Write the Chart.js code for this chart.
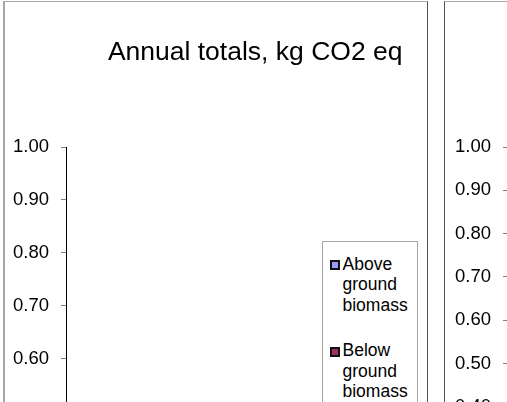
<!DOCTYPE html>
<html>
<head>
<meta charset="utf-8">
<title>Annual totals, kg CO2 eq</title>
<script src="https://cdn.jsdelivr.net/npm/chart.js@4.4.1/dist/chart.umd.min.js"></script>
<style>
  html, body { margin: 0; padding: 0; background: #fff; overflow: hidden; }
  body { width: 507px; height: 402px; position: relative; font-family: 'Liberation Sans', Arial, sans-serif; }
  .frame { position: absolute; top: 1px; height: 900px; box-sizing: border-box; }
  #frameLeft { left: 3px; width: 425px; border-top: 1px solid #a6a6a6; border-left: 2px solid #a6a6a6; border-right: 1px solid #555; }
  #frameRight { left: 444px; width: 420px; border-top: 1px solid #a6a6a6; border-left: 1px solid #555; }
  .chart-box { position: absolute; top: 0; }
  #leftBox { left: 0; width: 427px; height: 720px; }
  #rightBox { left: 445px; width: 400px; height: 624px; }
  #legend { position: absolute; left: 322px; top: 241px; width: 96px; height: 400px; box-sizing: border-box;
            border: 1px solid #a6a6a6; background: #fff; padding-top: 11.7px; }
  .legend-item { position: relative; padding-left: 19.5px; font-size: 17.5px; line-height: 20.5px; margin-bottom: 25.2px; color: #000; }
  .legend-item .swatch { position: absolute; left: 7px; top: 6.3px; width: 10px; height: 10px; box-sizing: border-box; border: 2px solid #111; }
</style>
</head>
<body>
<div class="frame" id="frameLeft"></div>
<div class="frame" id="frameRight"></div>
<div class="chart-box" id="leftBox"><canvas id="leftCanvas"></canvas></div>
<div class="chart-box" id="rightBox"><canvas id="rightCanvas"></canvas></div>
<div id="legend"></div>
<script>
// chart data
const chartTitle = 'Annual totals, kg CO2 eq';
const categories = ['Total'];
const seriesNames = ['Above ground biomass', 'Below ground biomass'];
const seriesColors = ['#9999ff', '#993366'];
const aboveGround = [0.31];
const belowGround = [0.12];
const aboveGroundRight = [0.24];
const belowGroundRight = [0.09];
const yTicks = { min: 0, max: 1, step: 0.1 };

Chart.defaults.font.family = "'Liberation Sans', Arial, sans-serif";
Chart.defaults.color = '#000';

// legend drawn as html next to the plot, built from the datasets
const htmlLegend = {
  id: 'htmlLegend',
  afterUpdate(chart) {
    const box = document.getElementById('legend');
    box.innerHTML = '';
    chart.data.datasets.forEach(ds => {
      const item = document.createElement('div');
      item.className = 'legend-item';
      const sw = document.createElement('span');
      sw.className = 'swatch';
      sw.style.background = ds.backgroundColor;
      item.appendChild(sw);
      item.appendChild(document.createTextNode(ds.label));
      box.appendChild(item);
    });
  }
};

function makeDatasets(above, below) {
  return [above, below].map((vals, i) => ({
    label: seriesNames[i],
    data: vals,
    backgroundColor: seriesColors[i],
    borderColor: '#000',
    borderWidth: 1,
  }));
}

function yScale(width) {
  return {
    stacked: true,
    min: yTicks.min,
    max: yTicks.max,
    afterFit: s => { s.width = width; },
    ticks: {
      stepSize: yTicks.step,
      padding: 12,
      color: '#000',
      font: { size: 18.5 },
      callback: v => Number(v).toFixed(2),
    },
    grid: { drawOnChartArea: false, drawTicks: true, tickLength: 5, color: '#808080' },
    border: { color: '#000', width: 1 },
  };
}

const xScale = {
  stacked: true,
  afterFit: s => { s.height = 30; },
  grid: { display: false },
  border: { color: '#000' },
  ticks: { color: '#000', font: { size: 18.5 } },
};

new Chart(document.getElementById('leftCanvas'), {
  type: 'bar',
  data: { labels: categories, datasets: makeDatasets(aboveGround, belowGround) },
  options: {
    responsive: true,
    maintainAspectRatio: false,
    animation: false,
    layout: { padding: { left: 0, right: 24.5, top: 0, bottom: 14 } },
    plugins: {
      legend: { display: false },
      tooltip: { enabled: false },
      title: {
        display: true,
        text: chartTitle,
        align: 'end',
        color: '#000',
        font: { size: 26.5, weight: 'normal' },
        padding: { top: 36.4, bottom: 78.8 },
      },
    },
    scales: { x: xScale, y: yScale(66) },
  },
  plugins: [htmlLegend],
});

new Chart(document.getElementById('rightCanvas'), {
  type: 'bar',
  data: { labels: categories, datasets: makeDatasets(aboveGroundRight, belowGroundRight) },
  options: {
    responsive: true,
    maintainAspectRatio: false,
    animation: false,
    layout: { padding: { left: 0, right: 20, top: 147, bottom: 14 } },
    plugins: { legend: { display: false }, tooltip: { enabled: false } },
    scales: { x: xScale, y: yScale(63) },
  },
});
</script>
</body>
</html>
